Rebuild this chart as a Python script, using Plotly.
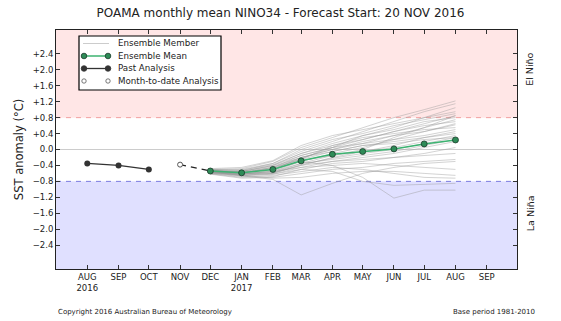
import plotly.graph_objects as go

# ---------------- data ----------------
past_months = ["2016-08-01", "2016-09-01", "2016-10-01"]
past_values = [-0.35, -0.40, -0.50]

mtd_month = ["2016-11-01"]
mtd_value = [-0.38]

fc_months = ["2016-12-01", "2017-01-01", "2017-02-01", "2017-03-01", "2017-04-01",
             "2017-05-01", "2017-06-01", "2017-07-01", "2017-08-01"]
ens_mean = [-0.54, -0.585, -0.50, -0.285, -0.12, -0.05, 0.015, 0.14, 0.24]

members = [
    [-0.50, -0.48, -0.30, 0.05, 0.30, 0.55, 0.80, 1.00, 1.22],
    [-0.52, -0.50, -0.35, -0.05, 0.20, 0.45, 0.70, 0.95, 1.15],
    [-0.55, -0.55, -0.40, -0.10, 0.15, 0.35, 0.55, 0.80, 1.05],
    [-0.48, -0.45, -0.28, 0.10, 0.35, 0.50, 0.65, 0.80, 0.95],
    [-0.58, -0.60, -0.45, -0.15, 0.05, 0.25, 0.45, 0.65, 0.85],
    [-0.53, -0.57, -0.50, -0.20, 0.00, 0.15, 0.35, 0.55, 0.75],
    [-0.56, -0.62, -0.55, -0.30, -0.10, 0.05, 0.25, 0.45, 0.62],
    [-0.54, -0.60, -0.48, -0.25, 0.10, 0.30, 0.40, 0.50, 0.55],
    [-0.60, -0.65, -0.60, -0.40, -0.20, -0.05, 0.10, 0.30, 0.45],
    [-0.57, -0.62, -0.52, -0.28, -0.15, -0.05, 0.05, 0.20, 0.35],
    [-0.55, -0.58, -0.45, -0.20, -0.05, 0.10, 0.20, 0.30, 0.40],
    [-0.52, -0.55, -0.40, -0.15, 0.05, 0.15, 0.25, 0.35, 0.50],
    [-0.59, -0.66, -0.62, -0.45, -0.30, -0.20, -0.10, 0.05, 0.20],
    [-0.56, -0.60, -0.58, -0.35, -0.25, -0.15, -0.05, 0.10, 0.25],
    [-0.61, -0.70, -0.68, -0.50, -0.35, -0.30, -0.20, -0.10, 0.05],
    [-0.58, -0.64, -0.60, -0.38, -0.22, -0.10, 0.00, 0.15, 0.30],
    [-0.55, -0.66, -0.75, -1.14, -0.85, -0.60, -0.45, -0.35, -0.30],
    [-0.53, -0.58, -0.50, -0.30, -0.40, -0.70, -1.22, -1.02, -1.02],
    [-0.62, -0.72, -0.70, -0.60, -0.50, -0.45, -0.35, -0.30, -0.25],
    [-0.57, -0.65, -0.72, -0.70, -0.60, -0.55, -0.55, -0.60, -0.65],
    [-0.60, -0.68, -0.65, -0.55, -0.45, -0.50, -0.60, -0.70, -0.72],
    [-0.54, -0.60, -0.55, -0.45, -0.40, -0.35, -0.40, -0.45, -0.50],
    [-0.50, -0.52, -0.38, -0.10, 0.10, 0.25, 0.45, 0.60, 0.70],
    [-0.56, -0.55, -0.42, -0.20, 0.00, 0.20, 0.35, 0.45, 0.65],
    [-0.52, -0.56, -0.45, -0.25, -0.05, 0.10, 0.15, 0.25, 0.30],
    [-0.58, -0.62, -0.55, -0.35, -0.15, 0.00, 0.30, 0.55, 0.85],
    [-0.55, -0.60, -0.62, -0.50, -0.55, -0.80, -0.90, -0.88, -0.85],
    [-0.51, -0.53, -0.35, 0.00, 0.25, 0.40, 0.60, 0.75, 0.90],
    [-0.57, -0.63, -0.58, -0.40, -0.30, -0.25, -0.20, -0.15, -0.10],
    [-0.54, -0.58, -0.48, -0.22, 0.05, 0.35, 0.50, 0.70, 0.80],
]

x_tick_vals = ["2016-08-01", "2016-09-01", "2016-10-01", "2016-11-01", "2016-12-01",
               "2017-01-01", "2017-02-01", "2017-03-01", "2017-04-01", "2017-05-01",
               "2017-06-01", "2017-07-01", "2017-08-01", "2017-09-01"]
x_tick_text = ["AUG<br>2016", "SEP", "OCT", "NOV", "DEC", "JAN<br>2017", "FEB", "MAR",
               "APR", "MAY", "JUN", "JUL", "AUG", "SEP"]

y_tick_vals = [-2.4, -2.0, -1.6, -1.2, -0.8, -0.4, 0.0, 0.4, 0.8, 1.2, 1.6, 2.0, 2.4]
y_tick_text = ["\u22122.4", "\u22122.0", "\u22121.6", "\u22121.2", "\u22120.8", "\u22120.4",
               "0.0", "+0.4", "+0.8", "+1.2", "+1.6", "+2.0", "+2.4"]

legend_labels = ["Ensemble Member", "Ensemble Mean", "Past Analysis", "Month-to-date Analysis"]

el_nino_threshold = 0.8
la_nina_threshold = -0.8
y_min, y_max = -3.0, 3.0
x_start, x_end = "2016-07-01", "2017-10-01"

FONT = "DejaVu Sans"
MEMBER_COLOR = "rgba(150,150,150,0.42)"
MEAN_LINE = "#3CB371"
MEAN_MARK = "#2E8B57"
MEAN_EDGE = "#1a3a2a"
PAST_COLOR = "#333333"

# plot-area geometry (pixels) used for the hand-drawn legend box
L, R, T, B = 56, 517, 30, 269
W, H = 561, 321


def px(xp):
    return (xp - L) / (R - L)


def py(yp):
    return (B - yp) / (B - T)


fig = go.Figure()

# ensemble members
for m in members:
    fig.add_trace(go.Scatter(
        x=fc_months, y=m, mode="lines",
        line=dict(color=MEMBER_COLOR, width=1),
        showlegend=False, hoverinfo="skip"))

# dashed connector from month-to-date to first forecast
fig.add_trace(go.Scatter(
    x=[mtd_month[0], fc_months[0]], y=[mtd_value[0], ens_mean[0]], mode="lines",
    line=dict(color="#222222", width=1.3, dash="6px,5px"), showlegend=False))

fig.add_trace(go.Scatter(
    x=fc_months, y=ens_mean, mode="lines+markers", name="Ensemble Mean",
    line=dict(color=MEAN_LINE, width=1.5),
    marker=dict(color=MEAN_MARK, size=6, line=dict(color=MEAN_EDGE, width=0.8)),
    showlegend=False))

fig.add_trace(go.Scatter(
    x=past_months, y=past_values, mode="lines+markers", name="Past Analysis",
    line=dict(color=PAST_COLOR, width=1.3),
    marker=dict(color=PAST_COLOR, size=6), showlegend=False))

fig.add_trace(go.Scatter(
    x=mtd_month, y=mtd_value, mode="markers", name="Month-to-date Analysis",
    marker=dict(color="white", size=5, line=dict(color="#555555", width=1)),
    showlegend=False))

# background bands and threshold lines
fig.add_shape(type="rect", xref="paper", yref="y", x0=0, x1=1, y0=el_nino_threshold, y1=y_max,
              fillcolor="#FFE6E6", line_width=0, layer="below")
fig.add_shape(type="rect", xref="paper", yref="y", x0=0, x1=1, y0=y_min, y1=la_nina_threshold,
              fillcolor="#E0E0FF", line_width=0, layer="below")
fig.add_shape(type="line", xref="paper", yref="y", x0=0, x1=1, y0=el_nino_threshold, y1=el_nino_threshold,
              line=dict(color="#F2A0A0", width=1, dash="5px,5px"), layer="below")
fig.add_shape(type="line", xref="paper", yref="y", x0=0, x1=1, y0=la_nina_threshold, y1=la_nina_threshold,
              line=dict(color="#7A7AE0", width=1, dash="5px,5px"), layer="below")
fig.add_shape(type="line", xref="paper", yref="y", x0=0, x1=1, y0=0, y1=0,
              line=dict(color="#CCCCCC", width=1), layer="below")

# ---------------- hand-drawn legend (matplotlib style) ----------------
fig.add_shape(type="rect", xref="paper", yref="paper", x0=px(79), x1=px(221), y0=py(90), y1=py(36),
              fillcolor="white", line=dict(color="black", width=1.2))
row_y = [43.5, 56, 68.5, 81]
sx0, sx1, tx = 84, 108, 116
fig.add_shape(type="line", xref="paper", yref="paper", x0=px(sx0 - 1), x1=px(sx1 + 1),
              y0=py(row_y[0]), y1=py(row_y[0]), line=dict(color="rgba(170,170,170,0.6)", width=1))
fig.add_shape(type="line", xref="paper", yref="paper", x0=px(sx0), x1=px(sx1),
              y0=py(row_y[1]), y1=py(row_y[1]), line=dict(color=MEAN_LINE, width=1.5))
fig.add_shape(type="line", xref="paper", yref="paper", x0=px(sx0), x1=px(sx1),
              y0=py(row_y[2]), y1=py(row_y[2]), line=dict(color=PAST_COLOR, width=1.3))
symbols = [(1, MEAN_MARK, MEAN_EDGE, 2.8), (2, PAST_COLOR, PAST_COLOR, 2.8), (3, "white", "#555555", 2.2)]
for row, fill, edge, r in symbols:
    for sx in (sx0, sx1):
        fig.add_shape(type="circle", xref="paper", yref="paper", xsizemode="pixel", ysizemode="pixel",
                      xanchor=px(sx), yanchor=py(row_y[row]), x0=-r, x1=r, y0=-r, y1=r,
                      fillcolor=fill, line=dict(color=edge, width=0.8))
for lab, yy in zip(legend_labels, row_y):
    fig.add_annotation(xref="paper", yref="paper", x=px(tx), y=py(yy), xanchor="left", yanchor="middle",
                       text=lab, showarrow=False, font=dict(family=FONT, size=8.7, color="#222"))

fig.add_annotation(xref="paper", yref="y", x=px(530), y=2.0, xanchor="center", yanchor="middle",
                   text="El Niño", textangle=-90,
                   showarrow=False, font=dict(family=FONT, size=9.5, color="#222"))
fig.add_annotation(xref="paper", yref="y", x=px(530), y=-1.6, xanchor="center", yanchor="middle",
                   text="La Niña", textangle=-90,
                   showarrow=False, font=dict(family=FONT, size=9.5, color="#222"))

fig.add_annotation(xref="paper", yref="paper", x=0, y=py(312), xanchor="left", yanchor="middle",
                   text="Copyright 2016 Australian Bureau of Meteorology", showarrow=False,
                   font=dict(family=FONT, size=7, color="#222"))
fig.add_annotation(xref="paper", yref="paper", x=px(537), y=py(312), xanchor="right", yanchor="middle",
                   text="Base period 1981-2010", showarrow=False,
                   font=dict(family=FONT, size=7, color="#222"))

fig.update_layout(
    width=W, height=H,
    margin=dict(l=L, r=W - R, t=T, b=H - B),
    paper_bgcolor="white", plot_bgcolor="white",
    font=dict(family=FONT, size=9, color="#222"),
    showlegend=False,
    title=dict(text="POAMA monthly mean NINO34 - Forecast Start: 20 NOV 2016",
               x=0.5, xanchor="center", y=0.96, yanchor="middle",
               font=dict(family=FONT, size=12, color="#222")),
    xaxis=dict(type="date", range=[x_start, x_end], tickmode="array",
               tickvals=x_tick_vals, ticktext=x_tick_text, ticks="inside",
               ticklen=4, tickcolor="#333", showgrid=False, zeroline=False,
               showline=True, linecolor="#222", linewidth=1, mirror="ticks",
               tickfont=dict(family=FONT, size=8.5)),
    yaxis=dict(range=[y_min, y_max], tickmode="array", tickvals=y_tick_vals,
               ticktext=y_tick_text, ticks="inside", ticklen=4, tickcolor="#333",
               showgrid=False, zeroline=False, showline=True, linecolor="#222",
               linewidth=1, mirror="ticks", tickfont=dict(family=FONT, size=8.5),
               title=dict(text="SST anomaly (°C)", font=dict(family=FONT, size=11.5), standoff=6)),
)

fig.write_html("out.html")
